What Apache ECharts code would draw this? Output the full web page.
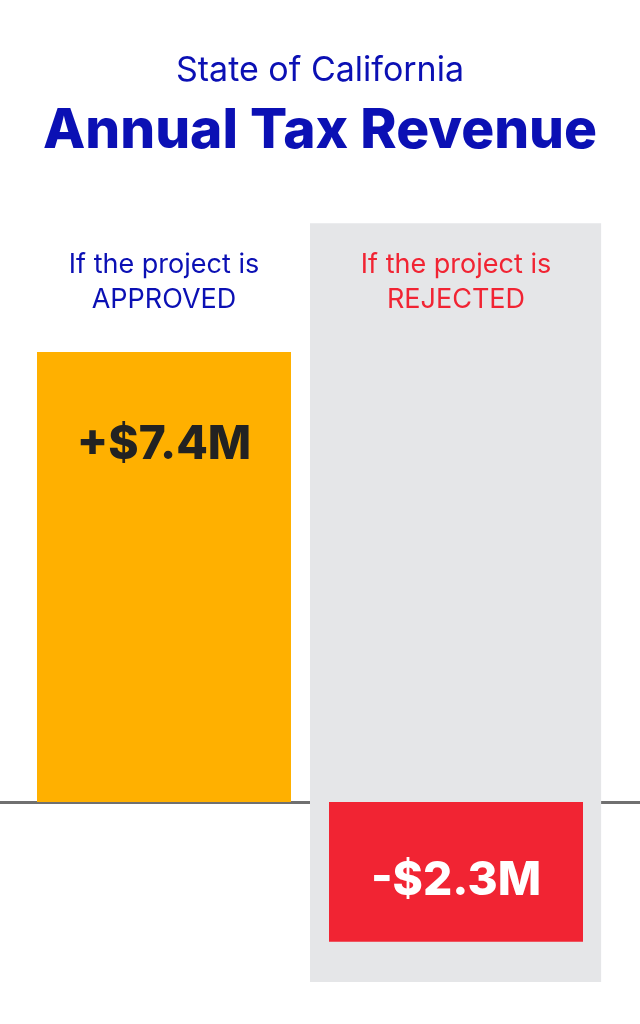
<!DOCTYPE html>
<html>
<head>
<meta charset="utf-8">
<script src="https://cdn.jsdelivr.net/npm/echarts@6/dist/echarts.min.js"></script>
<style>
  html, body { margin: 0; padding: 0; background: #fff; }
  #chart { width: 640px; height: 1024px; }
</style>
</head>
<body>
<div id="chart"></div>
<script>
// data
var categories = ['If the project is\nAPPROVED', 'If the project is\nREJECTED'];
var values = [7.4, -2.3];
var valueLabels = ['+$7.4M', '-$2.3M'];
var barColors = ['#ffb000', '#f12433'];
var catColors = ['#0b10b4', '#f12433'];

var chartDom = document.getElementById('chart');
var myChart = echarts.init(chartDom);
var font = 'Inter, "Noto Sans", sans-serif';

// bars sit at x = 0 and x = 1 on a value axis
var barData = values.map(function (v, i) {
  return {
    value: [i, v],
    itemStyle: { color: barColors[i] },
    label: i === 0
      ? { position: 'insideTop', distance: 70, color: '#222222' }
      : { position: 'inside', offset: [0, 9], color: '#ffffff' }
  };
});

var catData = categories.map(function (c, i) {
  return {
    value: [i, 8.55],
    label: { color: catColors[i] }
  };
});

var option = {
  animation: false,
  title: [
    {
      text: 'State of California',
      left: 'center',
      top: 49,
      textStyle: { fontFamily: font, fontSize: 34, fontWeight: 400, color: '#0b10b4' }
    },
    {
      text: 'Annual Tax Revenue',
      left: 'center',
      top: 99,
      textStyle: { fontFamily: font, fontSize: 55, fontWeight: 800, color: '#0b10b4' }
    }
  ],
  grid: { left: 0, right: 0, top: 0, bottom: 0 },
  xAxis: {
    type: 'value',
    min: -164 / 292,
    max: 476 / 292,
    axisLine: { onZero: true, lineStyle: { color: '#707070', width: 3 } },
    axisTick: { show: false },
    axisLabel: { show: false },
    splitLine: { show: false }
  },
  yAxis: {
    type: 'value',
    min: -222 / 60.8,
    max: 802 / 60.8,
    axisLine: { show: false },
    axisTick: { show: false },
    axisLabel: { show: false },
    splitLine: { show: false }
  },
  series: [
    {
      // grey panel behind the rejected bar
      type: 'line',
      data: [],
      z: 1,
      markArea: {
        silent: true,
        itemStyle: { color: '#e5e6e8' },
        data: [[{ xAxis: 0.5, yAxis: -2.96 }, { xAxis: 1.497, yAxis: 9.52 }]]
      }
    },
    {
      type: 'bar',
      z: 2,
      barWidth: 254,
      data: barData,
      label: {
        show: true,
        fontFamily: font,
        fontSize: 46,
        fontWeight: 800,
        formatter: function (p) { return valueLabels[p.dataIndex]; }
      }
    },
    {
      type: 'scatter',
      z: 3,
      symbolSize: 0,
      itemStyle: { opacity: 1 },
      data: catData,
      label: {
        show: true,
        position: 'inside',
        opacity: 1,
        fontFamily: font,
        fontSize: 27,
        lineHeight: 35,
        formatter: function (p) { return categories[p.dataIndex]; }
      }
    }
  ]
};

option && myChart.setOption(option);
</script>
</body>
</html>
